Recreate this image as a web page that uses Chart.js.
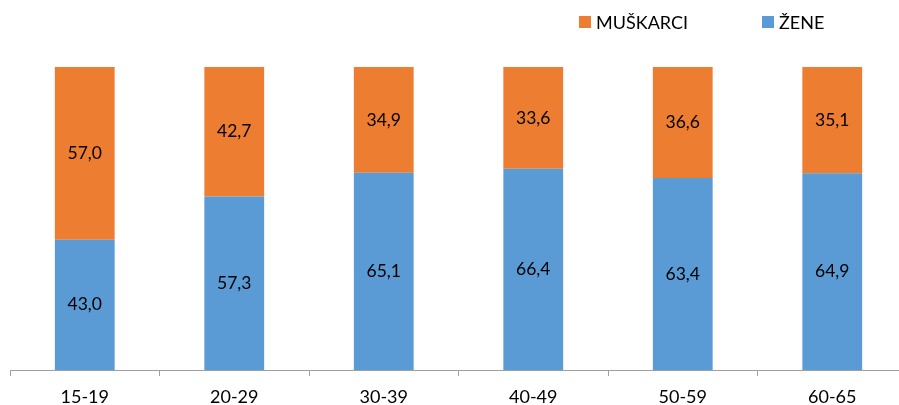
<!DOCTYPE html>
<html><head><meta charset="utf-8">
<script src="https://cdn.jsdelivr.net/npm/chart.js@4"></script>
<style>html,body{margin:0;padding:0;overflow:hidden;background:#fff}#wrap{position:absolute;left:0;top:0;width:920px;height:405px}</style>
</head><body><div id="wrap"><canvas id="c"></canvas></div>
<script>
const categories = ['15-19', '20-29', '30-39', '40-49', '50-59', '60-65'];
const zene = [43.0, 57.3, 65.1, 66.4, 63.4, 64.9];
const muskarci = [57.0, 42.7, 34.9, 33.6, 36.6, 35.1];
const seriesNames = ['ŽENE', 'MUŠKARCI'];
const seriesColors = ['#5B9BD5', '#ED7D31'];

const FONT = 'Lato, "Open Sans", sans-serif';

const valueLabels = {
  id: 'valueLabels',
  afterDatasetsDraw(chart) {
    const ctx = chart.ctx;
    ctx.save();
    ctx.font = '17.5px ' + FONT;
    ctx.fillStyle = '#000';
    ctx.textAlign = 'center';
    ctx.textBaseline = 'middle';
    chart.data.datasets.forEach((ds, di) => {
      const meta = chart.getDatasetMeta(di);
      meta.data.forEach((bar, i) => {
        const v = ds.data[i];
        const y = (bar.y + bar.base) / 2;
        ctx.fillText(v.toFixed(1).replace('.', ','), bar.x, y);
      });
    });
    ctx.restore();
  }
};

const customLegend = {
  id: 'customLegend',
  afterDraw(chart) {
    const ctx = chart.ctx;
    const items = [{ds: 1, x: 579}, {ds: 0, x: 762}];
    ctx.save();
    ctx.font = '18px ' + FONT;
    ctx.textBaseline = 'middle';
    ctx.textAlign = 'left';
    items.forEach(it => {
      const ds = chart.data.datasets[it.ds];
      ctx.fillStyle = ds.backgroundColor;
      ctx.fillRect(it.x, 16, 12, 12);
      ctx.fillStyle = '#000';
      ctx.fillText(ds.label, it.x + 17, 23);
    });
    ctx.restore();
  }
};

new Chart(document.getElementById('c'), {
  type: 'bar',
  data: {
    labels: categories,
    datasets: [
      {label: seriesNames[0], data: zene, backgroundColor: seriesColors[0]},
      {label: seriesNames[1], data: muskarci, backgroundColor: seriesColors[1]}
    ]
  },
  options: {
    responsive: true,
    maintainAspectRatio: false,
    animation: false,
    layout: {padding: {left: 10, right: 13, top: 67, bottom: 0}},
    datasets: {bar: {categoryPercentage: 1, barPercentage: 0.4}},
    plugins: {legend: {display: false}, tooltip: {enabled: false}},
    scales: {
      x: {
        stacked: true,
        grid: {display: true, drawOnChartArea: false, drawTicks: true, tickLength: 6, color: '#A0A0A0', offset: true},
        border: {display: true, color: '#A0A0A0', width: 1},
        ticks: {color: '#000', font: {family: FONT, size: 18}, padding: 10, maxRotation: 0},
        afterFit: (s) => { s.height = 35; }
      },
      y: {stacked: true, display: false, min: 0, max: 100}
    }
  },
  plugins: [valueLabels, customLegend]
});
</script>
</body></html>
